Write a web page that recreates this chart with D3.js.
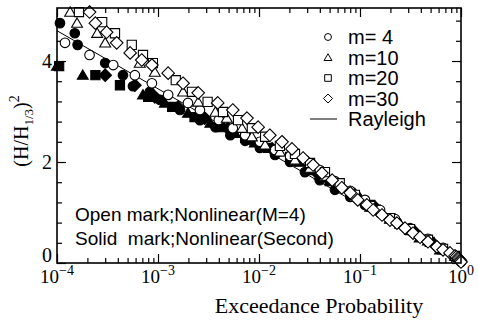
<!DOCTYPE html>
<html>
<head>
<meta charset="utf-8">
<script src="https://cdn.jsdelivr.net/npm/d3@7/dist/d3.min.js"></script>
<style>
  body { margin: 0; background: #fff; }
  svg { display: block; }
</style>
</head>
<body>
<div id="chart"></div>
<script>
// ---- data: [exceedance probability, (H/H1/3)^2] ----
const rayleigh = [[1e-4, 4.60], [1e-3, 3.45], [1e-2, 2.30], [1e-1, 1.15], [1, 0]];

const openM4 = [[1.2e-4,4.36],[2.1e-4,4.12],[3.6e-4,3.92],[5.9e-4,3.72],[8.7e-4,3.56],[1.26e-3,3.33],
  [1.98e-3,3.17],[2.6e-3,3.03],[4.0e-3,2.83],[5.5e-3,2.67],[7.3e-3,2.53],[1.02e-2,2.40],[1.44e-2,2.24],
  [2.03e-2,2.12],[2.85e-2,2.04],[4.0e-2,1.84],[5.65e-2,1.62],[8.0e-2,1.43],[0.112,1.25],[0.158,1.05],
  [0.222,0.87],[0.313,0.69],[0.471,0.48],[0.664,0.30],[0.873,0.14],[1.0,0.02]];

const openM10 = [[1.35e-4,4.97],[1.58e-4,4.75],[2.5e-4,4.55],[3.0e-4,4.36],[6.6e-4,3.96],[9.3e-4,3.78],
  [1.77e-3,3.39],[2.5e-3,3.19],[3.7e-3,2.99],[4.8e-3,2.87],[6.8e-3,2.67],[8.5e-3,2.50],[1.15e-2,2.34],
  [1.61e-2,2.20],[2.27e-2,2.04],[3.2e-2,1.88],[4.5e-2,1.72],[6.3e-2,1.54],[8.9e-2,1.31],[0.126,1.11],
  [0.198,0.87],[0.313,0.65],[0.471,0.44],[0.664,0.26],[0.873,0.14]];

const openM20 = [[1.65e-4,4.97],[2.8e-4,4.77],[3.75e-4,4.55],[5.5e-4,4.32],[7.1e-4,4.12],[8.9e-4,3.96],
  [1.5e-3,3.62],[2.17e-3,3.39],[3.1e-3,3.19],[4.4e-3,2.99],[6.2e-3,2.83],[8.5e-3,2.67],[1.15e-2,2.50],
  [1.61e-2,2.32],[2.27e-2,2.16],[3.2e-2,1.98],[4.5e-2,1.80],[6.3e-2,1.58],[8.9e-2,1.35],[0.126,1.13],
  [0.198,0.89],[0.313,0.67],[0.471,0.46],[0.664,0.28],[0.873,0.14]];

const openM30 = [[2.1e-4,4.97],[2.4e-4,4.75],[3.1e-4,4.57],[3.9e-4,4.36],[5.3e-4,4.16],[6.9e-4,4.02],
  [8.7e-4,3.92],[1.26e-3,3.76],[1.77e-3,3.56],[2.5e-3,3.37],[3.9e-3,3.17],[5.5e-3,3.03],[7.6e-3,2.87],
  [9.8e-3,2.69],[1.28e-2,2.53],[1.69e-2,2.40],[2.12e-2,2.26],[2.73e-2,2.08],[3.43e-2,1.94],[4.2e-2,1.78],
  [5.3e-2,1.64],[6.6e-2,1.49],[8.0e-2,1.39],[9.5e-2,1.25],[0.117,1.15],[0.135,1.05],[0.165,0.95],
  [0.198,0.85],[0.232,0.79],[0.279,0.69],[0.335,0.59],[0.393,0.51],[0.471,0.42],[0.578,0.32],
  [0.664,0.26],[0.778,0.20],[0.873,0.14],[0.90,0.12],[0.934,0.10],[0.95,0.08],[0.977,0.06],[0.99,0.04],[1.0,0.02]];

const solidM4 = [[1.07e-4,4.75],[1.5e-4,4.55],[1.6e-4,4.32],[3.0e-4,3.96],[4.5e-4,3.72],[5.65e-4,3.50],
  [8.3e-4,3.39],[1.05e-3,3.23],[1.65e-3,3.03],[2.6e-3,2.83],[3.7e-3,2.69],[5.2e-3,2.53],[7.3e-3,2.42],
  [1.02e-2,2.28],[1.44e-2,2.14],[2.03e-2,2.00],[2.85e-2,1.80],[4.0e-2,1.64],[5.65e-2,1.45],[8.0e-2,1.31],
  [0.112,1.15],[0.158,0.99],[0.222,0.83],[0.313,0.65],[0.471,0.44],[0.664,0.26],[0.873,0.12]];

const solidM10 = [[1.0e-4,3.90],[1.8e-4,3.72],[7.1e-4,3.33],[1.17e-3,3.17],[1.98e-3,2.97],[3.3e-3,2.77],
  [5.8e-3,2.57],[9.1e-3,2.38],[1.54e-2,2.20],[2.55e-2,2.00],[4.0e-2,1.74],[6.3e-2,1.52],[0.1,1.29],
  [0.158,1.05],[0.25,0.77],[0.39,0.50],[0.62,0.26]];

const solidM20 = [[1.05e-4,3.90],[2.4e-4,3.72],[4.2e-4,3.52],[8.0e-4,3.29],[1.38e-3,3.09],[2.3e-3,2.89],
  [4.1e-3,2.69],[7.3e-3,2.48],[1.23e-2,2.28],[2.03e-2,2.10],[3.2e-2,1.84],[5.0e-2,1.62],[8.0e-2,1.39],
  [0.126,1.15],[0.198,0.89],[0.313,0.65],[0.49,0.42]];

const solidM30 = [[3.0e-4,3.72],[5.9e-4,3.52],[9.3e-4,3.29],[1.58e-3,3.09],[2.9e-3,2.87],[4.9e-3,2.67],
  [8.1e-3,2.46],[1.35e-2,2.26],[2.27e-2,2.04],[3.6e-2,1.82],[5.65e-2,1.58],[8.9e-2,1.35],[0.14,1.11],
  [0.222,0.85],[0.35,0.61],[0.55,0.36]];

const xTickExponents = [-4, -3, -2, -1, 0];
const yTickValues = [0, 2, 4];
const legendLabels = ["m= 4", "m=10", "m=20", "m=30", "Rayleigh"];
const legendShapes = ["circle", "triangle", "square", "diamond", "line"];
const noteLines = ["Open mark;Nonlinear(M=4)", "Solid  mark;Nonlinear(Second)"];

// ---- layout ----
const W = 478, H = 321;
const margin = { top: 8, right: 17, bottom: 58, left: 57 };
const width = W - margin.left - margin.right;
const height = H - margin.top - margin.bottom;
const serif = "'Liberation Serif', 'Times New Roman', serif";
const sans = "'Liberation Sans', Arial, Helvetica, sans-serif";

const svg = d3.select('#chart').append('svg')
  .attr('width', W)
  .attr('height', H);

const chart = svg.append('g')
  .attr('transform', `translate(${margin.left}, ${margin.top})`);

const x = d3.scaleLog().domain([1e-4, 1]).range([0, width]);
const y = d3.scaleLinear().domain([0, 5.05]).range([height, 0]);

// tick positions
const xMajor = xTickExponents.map(e => Math.pow(10, e));
const xMinor = [];
xTickExponents.slice(0, -1).forEach(e => {
  for (let k = 2; k <= 9; k++) xMinor.push(k * Math.pow(10, e));
});
const yMinor = d3.range(1, 13).map(i => i * 0.4).filter(v => Math.abs(v / 2 - Math.round(v / 2)) > 1e-6);

function tickAxis(gen, scale, values, size, transform) {
  const g = chart.append('g')
    .attr('transform', transform)
    .call(gen(scale).tickValues(values).tickSize(size).tickFormat(''));
  g.select('.domain').remove();
  g.selectAll('line').attr('stroke', '#000').attr('stroke-width', 1.2);
  return g;
}

// ticks pointing inward on all four sides
tickAxis(d3.axisBottom, x, xMajor, -9, `translate(0, ${height})`);
tickAxis(d3.axisBottom, x, xMinor, -5, `translate(0, ${height})`);
tickAxis(d3.axisTop, x, xMajor, -9, 'translate(0, 0)');
tickAxis(d3.axisTop, x, xMinor, -5, 'translate(0, 0)');
tickAxis(d3.axisLeft, y, yTickValues, -9, 'translate(0, 0)');
tickAxis(d3.axisLeft, y, yMinor, -5, 'translate(0, 0)');
tickAxis(d3.axisRight, y, yTickValues, -9, `translate(${width}, 0)`);
tickAxis(d3.axisRight, y, yMinor, -5, `translate(${width}, 0)`);

// x tick labels: 10^n
const xLab = chart.append('g')
  .selectAll('text')
  .data(xTickExponents)
  .enter().append('text')
  .attr('x', d => x(Math.pow(10, d)))
  .attr('y', height + 20)
  .attr('text-anchor', 'middle')
  .attr('font-family', serif)
  .attr('font-size', '19px');
xLab.append('tspan').text('10');
xLab.append('tspan')
  .attr('dy', -8)
  .attr('font-size', '14px')
  .text(d => d < 0 ? '\u2212' + Math.abs(d) : String(d));

// y tick labels ("0" sits a little higher, clear of the x labels)
chart.append('g')
  .selectAll('text')
  .data(yTickValues)
  .enter().append('text')
  .attr('x', -5)
  .attr('y', d => y(d) + (d === 0 ? -1 : 7))
  .attr('text-anchor', 'end')
  .attr('font-family', serif)
  .attr('font-size', '20px')
  .text(d => d);

// axis titles
chart.append('text')
  .attr('x', 262)
  .attr('y', height + 50)
  .attr('text-anchor', 'middle')
  .attr('font-family', serif)
  .attr('font-size', '22px')
  .text('Exceedance Probability');

const yTitle = svg.append('text')
  .attr('transform', 'translate(28, 131) rotate(-90)')
  .attr('text-anchor', 'middle')
  .attr('font-family', serif)
  .attr('font-size', '20px');
yTitle.append('tspan').text('(H/H');
yTitle.append('tspan').attr('font-size', '13px').attr('dy', 5).text('1/3');
yTitle.append('tspan').attr('dy', -5).text(')');
yTitle.append('tspan').attr('font-size', '14px').attr('dy', -9).text('2');

// marker shapes
function shapePath(shape, s) {
  if (shape === 'circle') {
    return `M${s},0A${s},${s} 0 1,1 ${-s},0A${s},${s} 0 1,1 ${s},0Z`;
  }
  if (shape === 'triangle') {
    return `M0,${-s}L${s * 1.05},${s * 0.8}L${-s * 1.05},${s * 0.8}Z`;
  }
  if (shape === 'square') {
    return `M${-s},${-s}H${s}V${s}H${-s}Z`;
  }
  return `M0,${-s}L${s},0L0,${s}L${-s},0Z`;
}
const markerSize = { circle: 4.8, triangle: 5.2, square: 4.6, diamond: 6.3 };

const plot = chart.append('g');

function drawSeries(data, shape, filled) {
  plot.append('g')
    .selectAll('path')
    .data(data)
    .enter().append('path')
    .attr('transform', d => `translate(${x(d[0])}, ${y(d[1])})`)
    .attr('d', shapePath(shape, markerSize[shape]))
    .attr('fill', filled ? '#000' : '#fff')
    .attr('stroke', '#000')
    .attr('stroke-width', 1.1);
}

drawSeries(solidM4, 'circle', true);
drawSeries(solidM10, 'triangle', true);
drawSeries(solidM20, 'square', true);
drawSeries(solidM30, 'diamond', true);

plot.append('path')
  .datum(rayleigh)
  .attr('fill', 'none')
  .attr('stroke', '#000')
  .attr('stroke-width', 1)
  .attr('d', d3.line().x(d => x(d[0])).y(d => y(d[1])));

drawSeries(openM4, 'circle', false);
drawSeries(openM10, 'triangle', false);
drawSeries(openM20, 'square', false);
drawSeries(openM30, 'diamond', false);

// frame
chart.append('rect')
  .attr('width', width)
  .attr('height', height)
  .attr('fill', 'none')
  .attr('stroke', '#000')
  .attr('stroke-width', 1.6);

// legend
const legend = chart.append('g').attr('transform', 'translate(271, 29)');
const legendRow = legend.selectAll('g')
  .data(legendLabels)
  .enter().append('g')
  .attr('transform', (d, i) => `translate(0, ${i * 20.5})`);
legendRow.each(function (d, i) {
  const g = d3.select(this);
  const shape = legendShapes[i];
  if (shape === 'line') {
    g.append('line')
      .attr('x1', -18).attr('x2', 9)
      .attr('stroke', '#000').attr('stroke-width', 1);
  } else {
    g.append('path')
      .attr('d', shapePath(shape, markerSize[shape] * 0.72))
      .attr('fill', '#fff')
      .attr('stroke', '#000')
      .attr('stroke-width', 1);
  }
});
legendRow.append('text')
  .attr('x', 20)
  .attr('y', 7)
  .attr('font-family', sans)
  .attr('font-size', '20px')
  .style('white-space', 'pre')
  .text(d => d);

// note text
chart.append('g')
  .selectAll('text')
  .data(noteLines)
  .enter().append('text')
  .attr('x', 18)
  .attr('y', (d, i) => 213 + i * 24)
  .attr('font-family', sans)
  .attr('font-size', '19px')
  .style('white-space', 'pre')
  .text(d => d);
</script>
</body>
</html>
